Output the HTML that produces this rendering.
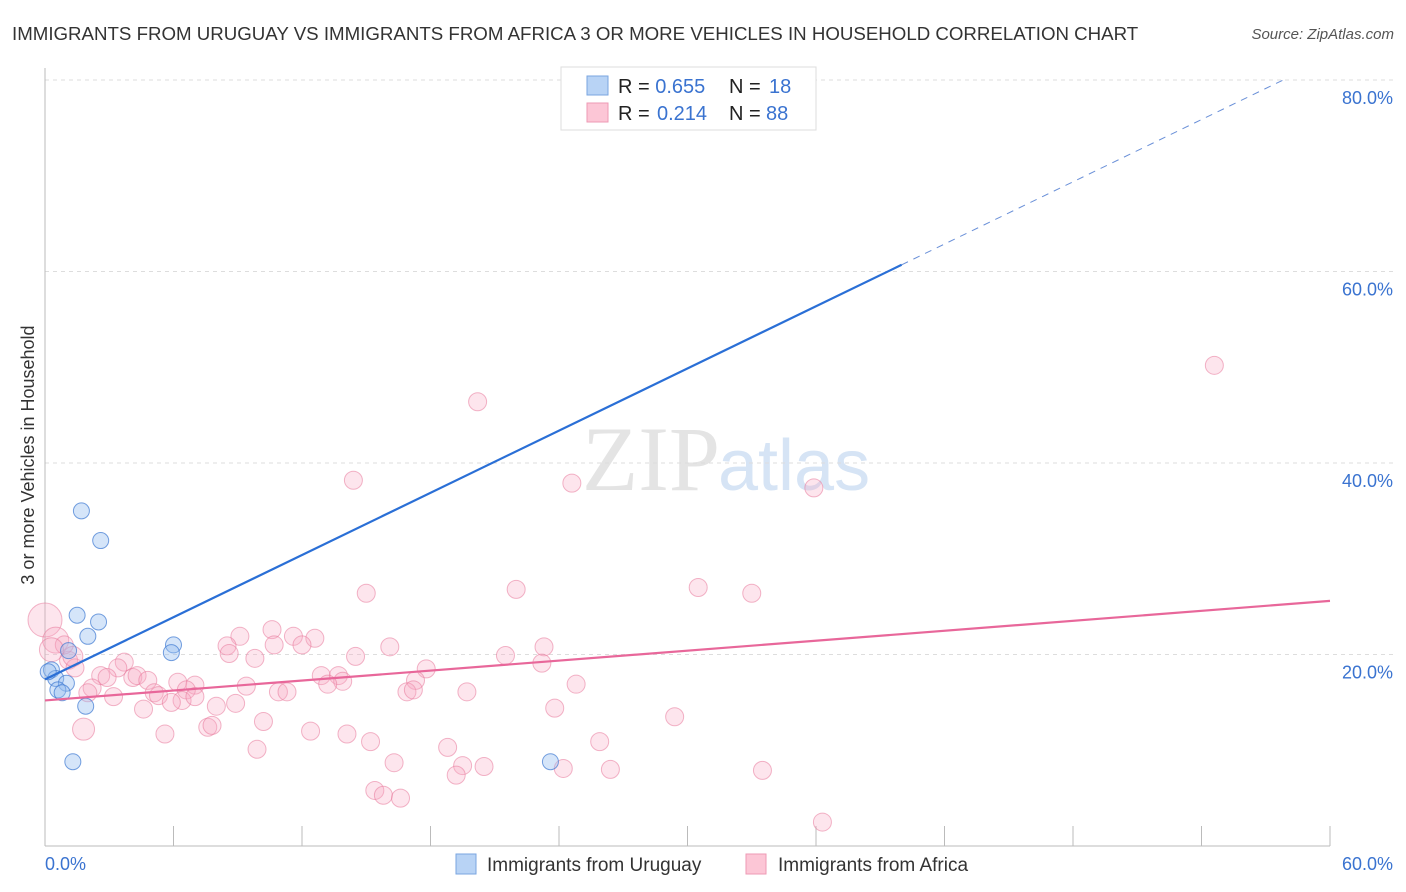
<!DOCTYPE html>
<html><head><meta charset="utf-8"><style>
body{margin:0;background:#fff;font-family:"Liberation Sans",sans-serif;}
svg{display:block}
</style></head><body>
<svg id="chart" width="1406" height="892" viewBox="0 0 1406 892">
<text x="12" y="40" font-size="18.7" fill="#333">IMMIGRANTS FROM URUGUAY VS IMMIGRANTS FROM AFRICA 3 OR MORE VEHICLES IN HOUSEHOLD CORRELATION CHART</text>
<text x="1394" y="39" font-size="15" fill="#555" font-style="italic" text-anchor="end">Source: ZipAtlas.com</text>
<text x="720" y="490" font-size="92" fill="#e4e4e4" text-anchor="end" font-family="Liberation Serif,serif">ZIP</text>
<text x="718" y="490" font-size="72" fill="#d6e4f5">atlas</text>
<text transform="translate(34,455) rotate(-90)" font-size="18" fill="#333" text-anchor="middle">3 or more Vehicles in Household</text>
<g id="grid"></g><g id="axes"></g><g id="pink"></g><g id="blue"></g><g id="lines"></g>
<g>
<rect x="561" y="67" width="255" height="63" fill="#fff" stroke="#ddd"/>
<rect x="587" y="76" width="21" height="19" fill="#b8d3f5" stroke="#7aa6e0"/>
<rect x="587" y="103" width="21" height="19" fill="#fcc6d6" stroke="#ee9ab4"/>
<text x="618" y="93" font-size="20" fill="#222">R = <tspan fill="#3a73d0">0.655</tspan><tspan x="729">N = </tspan><tspan x="769" fill="#3a73d0">18</tspan></text>
<text x="618" y="120" font-size="20" fill="#222">R = <tspan x="657" fill="#3a73d0">0.214</tspan><tspan x="729">N = </tspan><tspan x="766" fill="#3a73d0">88</tspan></text>
</g>
<g>
<rect x="456" y="854" width="20" height="20" fill="#b8d3f5" stroke="#7aa6e0"/>
<text x="487" y="871" font-size="19" fill="#333">Immigrants from Uruguay</text>
<rect x="746" y="854" width="20" height="20" fill="#fcc6d6" stroke="#ee9ab4"/>
<text x="778" y="871" font-size="19" fill="#333">Immigrants from Africa</text>
</g>
<text x="45" y="870" font-size="18" fill="#3a73d0">0.0%</text>
<text x="1393" y="870" font-size="18" fill="#3a73d0" text-anchor="end">60.0%</text>
</svg>
<script>
const yTicks=[20,40,60,80];
const xTicks=[0,6,12,18,24,30,36,42,48,54,60];
const blueX=[35.3,1.7,2.6,1.5,2.5,2.0,6.0,5.9,1.1,0.3,0.5,1.0,0.6,0.8,1.9,1.3,23.6,0.15];
const blueY=[78.1,35.0,31.9,24.1,23.4,21.9,21.0,20.2,20.4,18.4,17.5,17.0,16.3,16.0,14.6,8.8,8.8,18.2];
const pinkX=[54.6,20.2,14.4,24.6,35.9,15.0,22.0,30.5,33.0,0,0.5,9.1,10.6,11.6,12.6,8.5,10.7,12.0,16.1,23.3,8.6,9.8,14.5,21.5,23.2,1.1,1.4,3.7,3.4,17.8,2.6,2.9,4.1,4.3,4.8,6.2,7.0,9.4,12.9,13.7,13.9,13.2,17.3,24.8,2.2,6.6,5.1,5.3,6.4,7.0,10.9,11.3,16.9,17.2,19.7,3.2,5.9,8.0,8.9,4.6,23.8,29.4,10.2,7.6,7.8,12.4,1.8,5.6,14.1,15.2,25.9,18.8,9.9,16.3,19.5,20.5,19.2,24.2,26.4,33.5,15.4,15.8,16.6,36.3,0.9,0.3,1.3,2.0];
const pinkY=[50.2,46.4,38.2,37.9,37.4,26.4,26.8,27.0,26.4,23.6,21.5,21.9,22.6,21.9,21.7,20.9,21.0,21.0,20.8,20.8,20.1,19.6,19.8,19.9,19.1,19.4,18.6,19.2,18.6,18.5,17.8,17.6,17.6,17.8,17.3,17.1,16.8,16.7,17.8,17.8,17.2,16.9,17.3,16.9,16.5,16.3,16.0,15.7,15.2,15.6,16.1,16.1,16.1,16.3,16.1,15.6,15.0,14.6,14.9,14.3,14.4,13.5,13.0,12.4,12.6,12.0,12.2,11.7,11.7,10.9,10.9,10.3,10.1,8.7,8.4,8.3,7.4,8.1,8.0,7.9,5.8,5.3,5.0,2.5,21.0,20.5,19.8,16.0];
const pinkR=[9,9,9,9,9,9,9,9,9,17,13,9,9,9,9,9,9,9,9,9,9,9,9,9,9,9,9,9,9,9,9,9,9,9,9,9,9,9,9,9,9,9,9,9,9,9,9,9,9,9,9,9,9,9,9,9,9,9,9,9,9,9,9,9,9,9,11,9,9,9,9,9,9,9,9,9,9,9,9,9,9,9,9,9,9,12,10,9];
const blueLine=[[0,17.4],[40,60.7]], blueDash=[[40,60.7],[58,80.2]], pinkLine=[[0,15.2],[60,25.6]];
const X=v=>45+v*1285/60, Y=v=>846-v*9.575;
const NS='http://www.w3.org/2000/svg';
function mk(tag,attrs,parent){const e=document.createElementNS(NS,tag);for(const k in attrs)e.setAttribute(k,attrs[k]);document.getElementById(parent).appendChild(e);return e;}
yTicks.forEach(t=>{
 const l=mk('line',{x1:45,x2:1393,y1:Y(t),y2:Y(t),stroke:'#ddd','stroke-dasharray':'4,4'},'grid');
 
 
 const tx=mk('text',{x:1393,y:Y(t)+24,'font-size':18,fill:'#3a73d0','text-anchor':'end'},'grid');
 tx.textContent=t.toFixed(1)+'%';
 
 
});
const ax=mk('line',{x1:45,x2:45,y1:68,y2:846,stroke:'#bbb'},'axes');


const bx=mk('line',{x1:45,x2:1330,y1:846,y2:846,stroke:'#bbb'},'axes');


xTicks.forEach(t=>{
 const l=mk('line',{x1:X(t),x2:X(t),y1:826,y2:846,stroke:'#bbb'},'axes');
 
 
});
pinkX.forEach((v,i)=>{
 const c=mk('circle',{cx:X(v),cy:Y(pinkY[i]),r:pinkR[i]||9,fill:'rgba(248,170,195,0.3)',stroke:'rgba(232,120,155,0.55)','stroke-width':1},'pink');
 
 
});
blueX.forEach((v,i)=>{
 const c=mk('circle',{cx:X(v),cy:Y(blueY[i]),r:8,fill:'rgba(150,190,240,0.4)',stroke:'rgba(60,120,210,0.7)','stroke-width':1},'blue');
 
 
});
const bl=mk('line',{x1:X(blueLine[0][0]),y1:Y(blueLine[0][1]),x2:X(blueLine[1][0]),y2:Y(blueLine[1][1]),stroke:'#2a6fd6','stroke-width':2.2},'lines');


const bd=mk('line',{x1:X(blueDash[0][0]),y1:Y(blueDash[0][1]),x2:X(blueDash[1][0]),y2:Y(blueDash[1][1]),stroke:'#6a90d8','stroke-width':1,'stroke-dasharray':'7,6'},'lines');


const pl=mk('line',{x1:X(pinkLine[0][0]),y1:Y(pinkLine[0][1]),x2:X(pinkLine[1][0]),y2:Y(pinkLine[1][1]),stroke:'#e8679a','stroke-width':2.2},'lines');


</script>
</body></html>
